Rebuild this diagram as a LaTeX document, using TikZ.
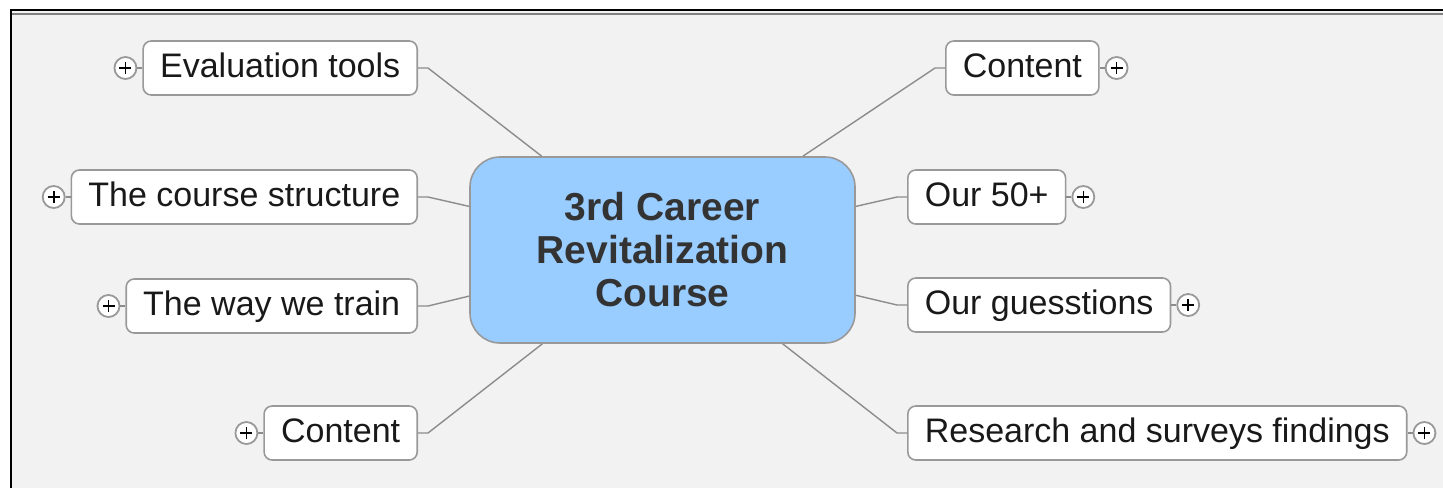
\documentclass[tikz,border=0pt]{standalone}
\usepackage{fontspec}
\setmainfont{Liberation Sans}
\usetikzlibrary{positioning}
\definecolor{rootblue}{HTML}{99CCFF}
\definecolor{boxline}{HTML}{999999}
\definecolor{linkgray}{HTML}{8C8C8C}
\definecolor{canvas}{HTML}{F2F2F2}

\begin{document}
\begin{tikzpicture}[x=0.5pt,y=-0.5pt,
  root/.style={draw=boxline, line width=0.8pt, fill=rootblue, rounded corners=15pt,
    minimum width=192.5pt, minimum height=93pt, align=center, text=black!80,
    font=\fontsize{19.5}{21.5}\selectfont\bfseries},
  topic/.style={draw=boxline, line width=0.8pt, fill=white, rounded corners=4pt,
    minimum height=27pt, inner xsep=8.5pt, text height=12.5pt, text depth=3.5pt,
    text=black!90, font=\fontsize{17}{20}\selectfont},
  expand/.style={circle, draw=boxline, fill=white, line width=0.9pt, minimum size=11pt, inner sep=0pt,
    path picture={\draw[black, line width=0.8pt]
      ([xshift=-3pt]path picture bounding box.center) -- ([xshift=3pt]path picture bounding box.center)
      ([yshift=-3pt]path picture bounding box.center) -- ([yshift=3pt]path picture bounding box.center);}},
  link/.style={draw=linkgray, line width=0.7pt}]

 \useasboundingbox (0,0) rectangle (1443,488);
 \fill[white] (0,0) rectangle (1443,488);
 \fill[canvas] (11,10) rectangle (1443,488);
 \draw[line width=1pt] (11,488) -- (11,10) -- (1443,10);
 \draw[gray, line width=1pt] (12,13.5) -- (1443,13.5);

 \node[root] (course) at (662.5,250) {3rd Career\\Revitalization\\Course};

 \node[topic, anchor=east] (evaltools) at (418,68)  {Evaluation tools};
 \node[topic, anchor=east] (structure) at (418,197) {The course structure};
 \node[topic, anchor=east] (waytrain)  at (418,306) {The way we train};
 \node[topic, anchor=east] (contentL)  at (418,433) {Content};

 \node[topic, anchor=west] (contentR)  at (945,68)  {Content};
 \node[topic, anchor=west] (fifty)     at (907,197) {Our 50+};
 \node[topic, anchor=west] (questions) at (907,305) {Our guesstions};
 \node[topic, anchor=west] (research)  at (907,433) {Research and surveys findings};

 \foreach \n in {evaltools,structure,waytrain,contentL} {
   \draw[link] (course) -- ([xshift=5pt]\n.east) -- (\n.east);
   \node[expand, left=2.5pt of \n] (\n-x) {};
   \draw[link] (\n-x) -- (\n);
 }
 \foreach \n in {contentR,fifty,questions,research} {
   \draw[link] (course) -- ([xshift=-5pt]\n.west) -- (\n.west);
   \node[expand, right=2.5pt of \n] (\n-x) {};
   \draw[link] (\n-x) -- (\n);
 }
\end{tikzpicture}
\end{document}
